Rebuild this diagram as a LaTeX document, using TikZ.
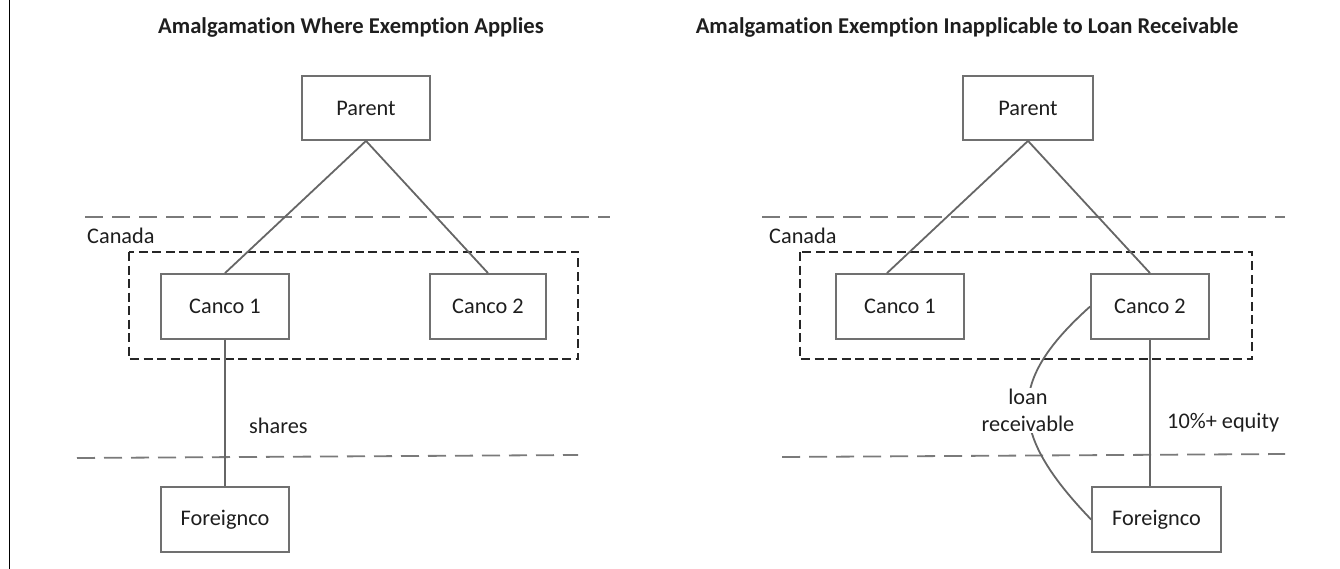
\documentclass[tikz,border=0pt]{standalone}
\usepackage{fontspec}
\setmainfont{Carlito}[Ligatures=NoCommon]
\definecolor{boxgray}{HTML}{707070}
\definecolor{linegray}{HTML}{666666}
\definecolor{dashgray}{HTML}{7A7A7A}
\definecolor{rectblack}{HTML}{262626}
\definecolor{txt}{HTML}{1E1E1E}
\newcommand\lblfont{\fontsize{22.3}{27}\selectfont}
\newcommand\ttlfont{\fontsize{22.6}{27}\selectfont\bfseries}
\begin{document}
\begin{tikzpicture}[x=1pt,y=-1pt,
  box/.style={draw=boxgray, line width=1.8pt, minimum height=65pt, inner sep=0pt, font=\lblfont, text=txt},
  link/.style={draw=linegray, line width=1.8pt},
  frontier/.style={draw=dashgray, line width=1.8pt, dash pattern=on 18pt off 9pt},
  region/.style={draw=rectblack, line width=1.8pt, dash pattern=on 9pt off 4.5pt},
  lbl/.style={font=\lblfont, text=txt, inner sep=0pt},
  ttl/.style={font=\ttlfont, text=txt, inner sep=0pt}]
\useasboundingbox (0,0) rectangle (1340,569);
\draw[black, line width=1.2pt] (9.5,0) -- (9.5,569);

% ---------- left panel ----------
\node[ttl] (tL) at (351,27) {Amalgamation Where Exemption Applies};
\draw[frontier] (85,217) -- (610,217);
\draw[frontier] (77,458) -- (578,455);
\node[lbl, anchor=west] (canL) at (87,236) {Canada};
\draw[region] (129,252) rectangle (578,359);
\node[box, minimum width=128pt, minimum height=64pt] (pL) at (366,108) {Parent};
\node[box, minimum width=128pt] (c1L) at (225,306.5) {Canco 1};
\node[box, minimum width=116pt] (c2L) at (488,306.5) {Canco 2};
\node[box, minimum width=128pt] (fL) at (225,519.5) {Foreignco};
\draw[link] (pL.south) -- (c1L.north);
\draw[link] (pL.south) -- (c2L.north);
\draw[link] (c1L.south) -- (fL.north);
\node[lbl, anchor=west] (sh) at (249,426) {shares};

% ---------- right panel ----------
\node[ttl] (tR) at (967,27) {Amalgamation Exemption Inapplicable to Loan Receivable};
\draw[frontier] (762,217) -- (1285,217);
\draw[frontier] (782,457) -- (1285,454);
\node[lbl, anchor=west] (canR) at (769,236) {Canada};
\draw[region] (800,252) rectangle (1252,359);
\node[box, minimum width=130pt, minimum height=64pt] (pR) at (1028,108) {Parent};
\node[box, minimum width=128pt] (c1R) at (900,306.5) {Canco 1};
\node[box, minimum width=118pt] (c2R) at (1150,306.5) {Canco 2};
\node[box, minimum width=129pt] (fR) at (1156.5,519.5) {Foreignco};
\draw[link] (pR.south) -- ([xshift=-13pt]c1R.north);
\draw[link] (pR.south) -- (c2R.north);
\draw[link] (c2R.south) -- (c2R.south |- fR.north);
\draw[link] (c2R.west) .. controls (1007,381) and (1007,432) .. (fR.west);
\node[lbl, fill=white, align=center, inner sep=1.5pt] (loan) at (1028,410.5) {loan\\receivable};
\node[lbl, anchor=west] (eq) at (1167,423) {10\%+ equity};
\end{tikzpicture}
\end{document}
